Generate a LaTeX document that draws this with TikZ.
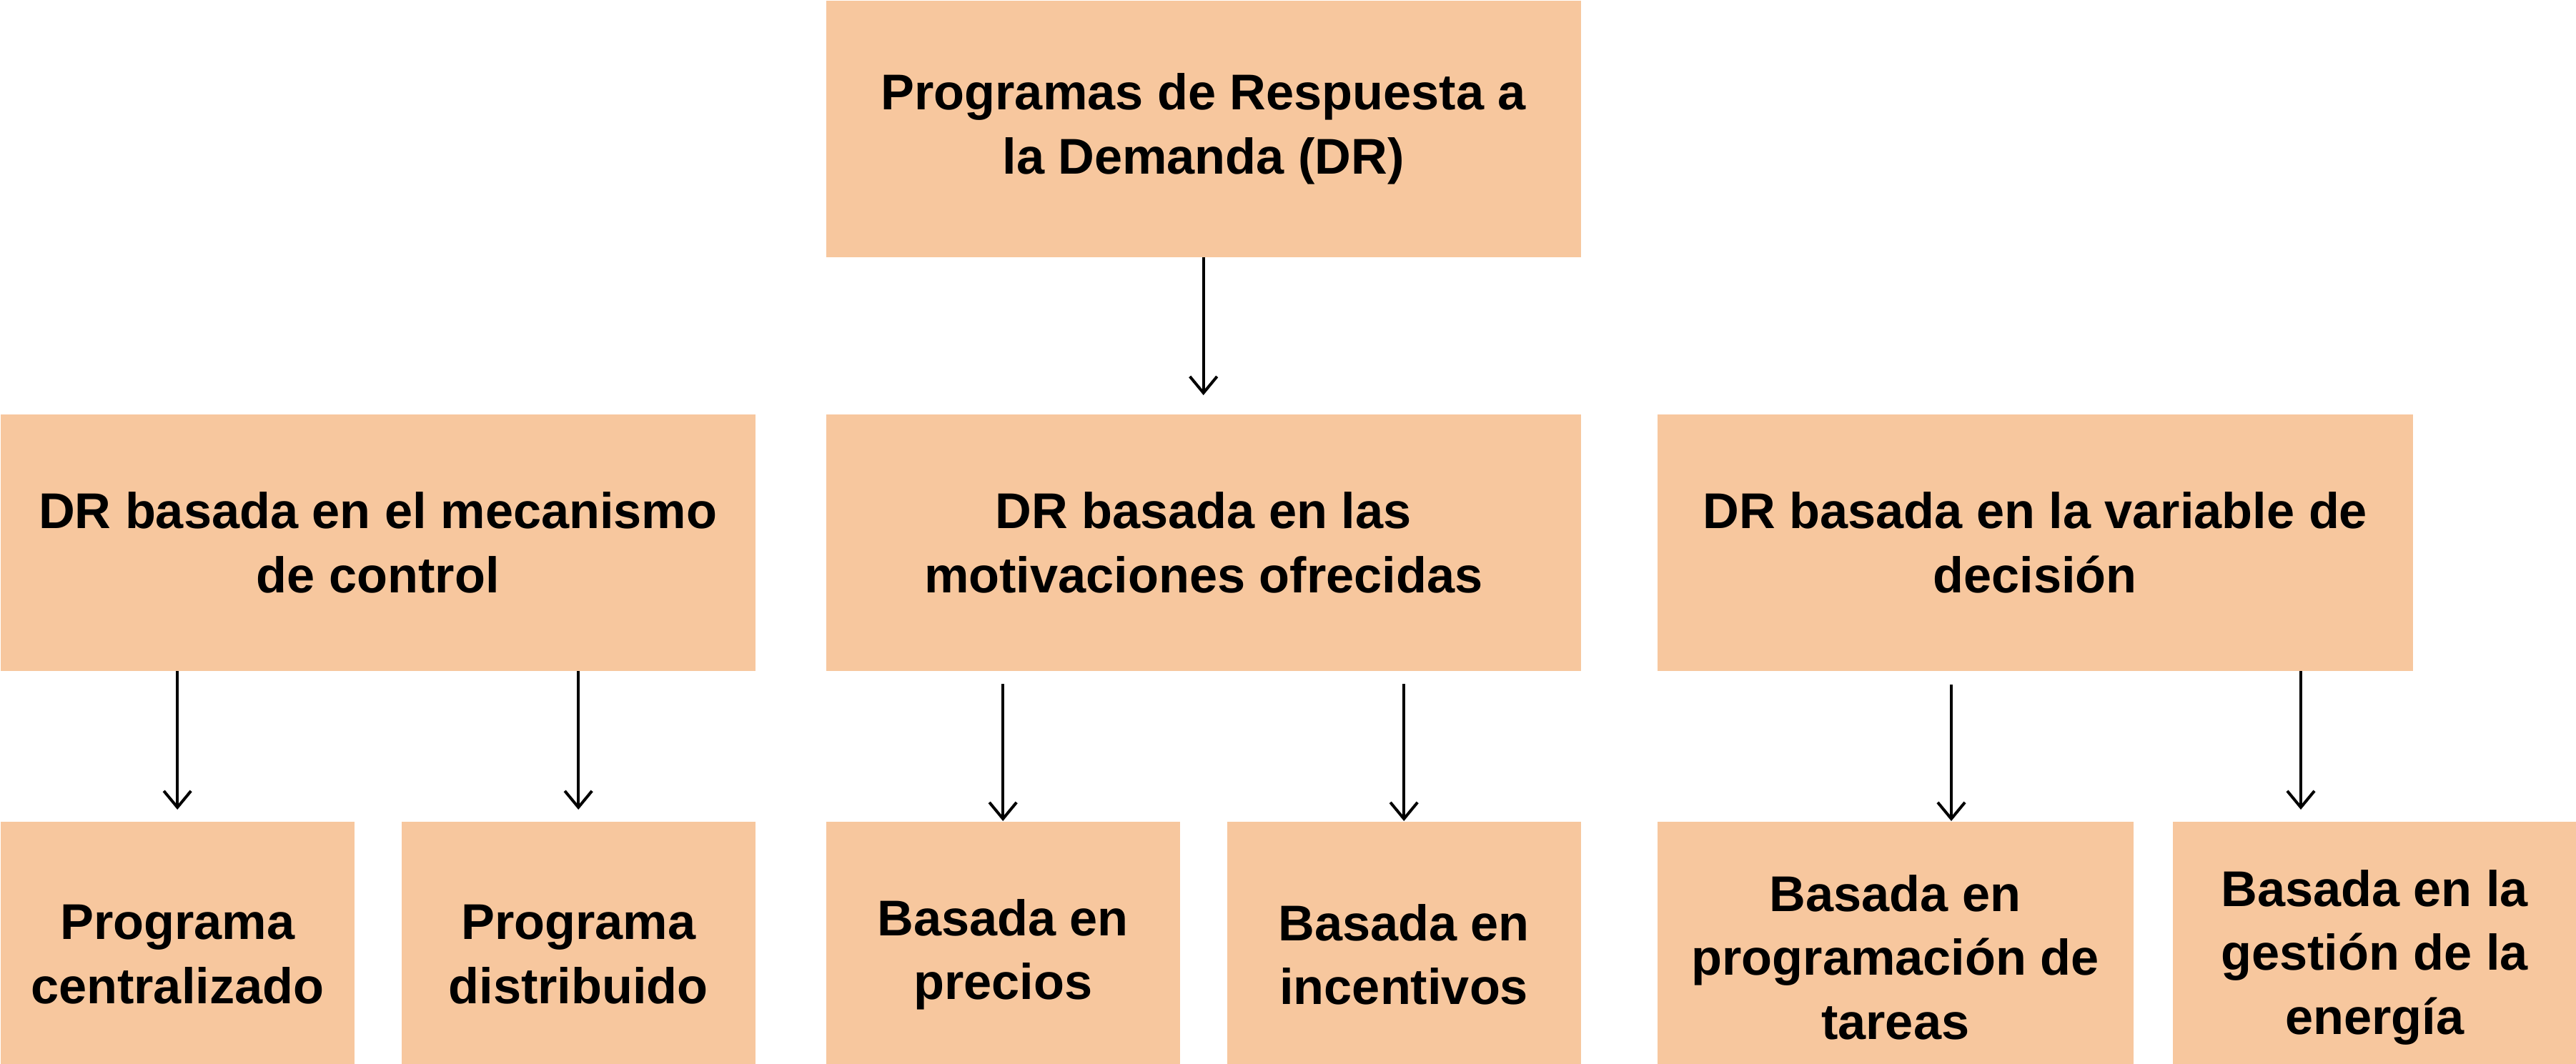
\documentclass[tikz,border=0pt]{standalone}
\usepackage{fontspec}
\setmainfont{Liberation Sans}
\usetikzlibrary{arrows.meta}
\definecolor{boxfill}{RGB}{247,199,158}
\tikzset{
  drbox/.style={fill=boxfill, inner sep=0pt, anchor=north west, align=center,
    font=\fontsize{20}{25.5}\selectfont\bfseries},
  drarrow/.style={line width=0.04cm, -{Straight Barb[length=0.23cm,width=0.38cm]}}
}
\begin{document}
\begin{tikzpicture}
% Page and clip
\useasboundingbox (0,0) rectangle (36.04,-14.88);
\clip (0,0) rectangle (36.04,-14.88);
\fill[white] (0,0) rectangle (36.04,-14.88);

% Drawing box top
\node[drbox, minimum width=10.56cm, minimum height=3.59cm] (top) at (11.55,0) {Programas de Respuesta a\\la Demanda (DR)};

% Drawing boxes of the middle row
\node[drbox, minimum width=10.56cm, minimum height=3.59cm] (mctl) at (0,-5.79) {DR basada en el mecanismo\\de control};
\node[drbox, minimum width=10.56cm, minimum height=3.59cm] (mmot) at (11.55,-5.79) {DR basada en las\\motivaciones ofrecidas};
\node[drbox, minimum width=10.57cm, minimum height=3.59cm] (mvar) at (23.18,-5.79) {DR basada en la variable de\\decisión};

% Drawing boxes of the bottom row
\node[drbox, minimum width=4.95cm, minimum height=3.72cm] (bcen) at (0,-11.49) {Programa\\centralizado};
\node[drbox, minimum width=4.95cm, minimum height=3.72cm] (bdis) at (5.61,-11.49) {Programa\\distribuido};
\node[drbox, minimum width=4.95cm, minimum height=3.72cm] (bpre) at (11.55,-11.49) {Basada en\\precios};
\node[drbox, minimum width=4.95cm, minimum height=3.72cm] (binc) at (17.16,-11.49) {Basada en\\incentivos};
\node[drbox, minimum width=6.66cm, minimum height=3.80cm] (btar) at (23.18,-11.49) {Basada en\\programación de\\tareas};
\node[drbox, minimum width=5.65cm, minimum height=3.80cm] (bene) at (30.39,-11.49) {Basada en la\\gestión de la\\energía};

% Drawing arrow top -> middle
\draw[drarrow, shorten >=0.26cm] (top.south) -- (top.south |- mmot.north);

% Drawing arrows of the left box
\draw[drarrow, shorten >=0.16cm] (bcen.north |- mctl.south) -- (bcen.north);
\draw[drarrow, shorten >=0.16cm] (bdis.north |- mctl.south) -- (bdis.north);

% Drawing arrows of the middle box
\draw[drarrow, shorten <=0.18cm] (bpre.north |- mmot.south) -- (bpre.north);
\draw[drarrow, shorten <=0.18cm] (binc.north |- mmot.south) -- (binc.north);

% Drawing arrows of the right box
\draw[drarrow, shorten <=0.19cm] ([xshift=4.12cm]mvar.south west) -- ([xshift=4.12cm]mvar.south west |- btar.north);
\draw[drarrow, shorten >=0.16cm] ([xshift=9.01cm]mvar.south west) -- ([xshift=9.01cm]mvar.south west |- bene.north);
\end{tikzpicture}
\end{document}
